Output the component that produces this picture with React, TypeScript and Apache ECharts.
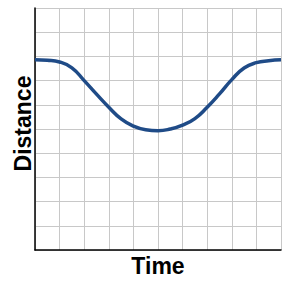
import React, { useEffect, useRef } from "react";
import * as echarts from "echarts";

const timeValues = [0, 0.5, 1, 1.5, 2, 2.5, 3, 3.5, 4, 4.5, 5, 5.5, 6, 6.5, 7, 7.5, 8, 8.5, 9, 9.5, 10];
const distanceValues = [7.86, 7.84, 7.77, 7.53, 7.0, 6.44, 5.9, 5.42, 5.12, 4.97, 4.93, 5.0, 5.16, 5.43, 5.9, 6.45, 7.04, 7.52, 7.74, 7.82, 7.86];
const xAxisTitle = "Time";
const yAxisTitle = "Distance";

export default function App() {
  const ref = useRef<HTMLDivElement>(null);
  useEffect(() => {
    if (!ref.current) return;
    const chart = echarts.init(ref.current, undefined, { renderer: "svg" });
    const gridLine = { show: true, lineStyle: { color: "#c8c8c8", width: 1 } };
    chart.setOption({
      animation: false,
      backgroundColor: "#ffffff",
      grid: { left: 35, top: 8, width: 246, height: 248, containLabel: false },
      xAxis: {
        type: "value",
        min: 0,
        max: 10,
        interval: 1,
        name: xAxisTitle,
        nameLocation: "middle",
        nameGap: 4,
        nameTextStyle: { fontFamily: "Liberation Sans", fontWeight: "bold", fontSize: 23, color: "#000", verticalAlign: "top" },
        axisLine: { show: true, lineStyle: { color: "#000", width: 1.5 } },
        axisTick: { show: false },
        axisLabel: { show: false },
        splitLine: gridLine,
      },
      yAxis: {
        type: "value",
        min: 0,
        max: 10,
        interval: 1,
        name: yAxisTitle,
        nameLocation: "middle",
        nameGap: 1,
        nameTextStyle: { fontFamily: "Liberation Sans", fontWeight: "bold", fontSize: 23, color: "#000", padding: [0, 0, 0, 11] },
        axisLine: { show: true, lineStyle: { color: "#000", width: 1.5 } },
        axisTick: { show: false },
        axisLabel: { show: false },
        splitLine: gridLine,
      },
      series: [
        {
          type: "line",
          data: timeValues.map((t, i) => [t, distanceValues[i]]),
          smooth: 0.5,
          showSymbol: false,
          lineStyle: { color: "#1f4b87", width: 3.5 },
        },
      ],
    });
    return () => chart.dispose();
  }, []);
  return <div ref={ref} style={{ position: "fixed", left: 0, top: 0, width: 291, height: 282 }} />;
}
